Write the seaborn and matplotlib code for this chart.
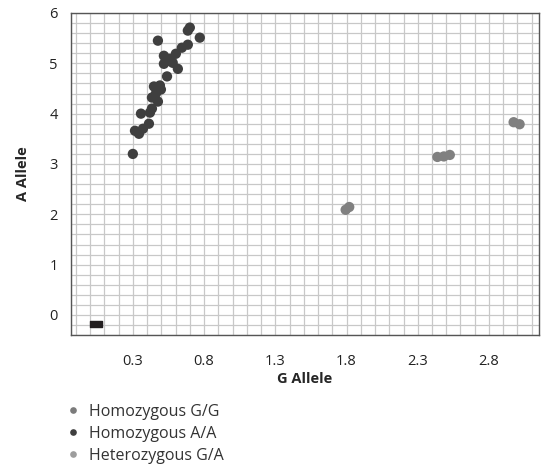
import numpy as np
import pandas as pd
import matplotlib
matplotlib.use("Agg")
import matplotlib.pyplot as plt
from matplotlib.ticker import FixedLocator, MultipleLocator
from matplotlib.lines import Line2D
from matplotlib.path import Path
import seaborn as sns

# Data
aa_g = [0.70, 0.686, 0.77, 0.476, 0.686, 0.644, 0.602, 0.518, 0.56, 0.58, 0.518,
        0.616, 0.54, 0.448, 0.49, 0.497, 0.462, 0.434, 0.476, 0.434, 0.42, 0.357,
        0.413, 0.315, 0.343, 0.371, 0.30, 0.555, 0.57]
aa_a = [5.71, 5.65, 5.51, 5.45, 5.37, 5.31, 5.19, 5.15, 5.09, 5.01, 4.99,
        4.89, 4.74, 4.54, 4.56, 4.48, 4.40, 4.32, 4.24, 4.10, 4.02, 4.00,
        3.80, 3.66, 3.60, 3.70, 3.20, 5.05, 5.04]
gg_g = [1.794, 1.819, 2.438, 2.483, 2.525, 2.973, 3.015]
gg_a = [2.09, 2.145, 3.14, 3.15, 3.18, 3.83, 3.79]
ntc_g = [0.04]
ntc_a = [-0.17]

labels = ['Homozygous G/G', 'Homozygous A/A', 'Heterozygous G/A']
colors = ['#7b7b7b', '#3f3f3f', '#9d9d9d']
x_ticks = [0.3, 0.8, 1.3, 1.8, 2.3, 2.8]
y_ticks = [0, 1, 2, 3, 4, 5, 6]

df = pd.DataFrame({
    'G Allele': aa_g + gg_g,
    'A Allele': aa_a + gg_a,
    'call': [labels[1]] * len(aa_g) + [labels[0]] * len(gg_g),
})

sns.set_style('white')
plt.rcParams['font.family'] = ['Open Sans', 'DejaVu Sans']

fig = plt.figure(figsize=(5.41, 4.74), dpi=100)
ax = fig.add_axes([0.131, 0.293, 0.865, 0.6796])

xmin, xmax = -0.135, 3.15
ymin, ymax = -0.4, 6.0

sns.scatterplot(data=df, x='G Allele', y='A Allele', hue='call',
                palette={labels[0]: '#808080', labels[1]: '#3f3f3f'},
                s=55, edgecolor='none', legend=False, ax=ax, zorder=3)

rect = Path([(-1, -0.55), (1, -0.55), (1, 0.55), (-1, 0.55), (-1, -0.55)],
            [Path.MOVETO, Path.LINETO, Path.LINETO, Path.LINETO, Path.CLOSEPOLY])
ax.scatter(ntc_g, ntc_a, marker=rect, s=70, color='#231f20', zorder=3)

ax.set_xlim(xmin, xmax)
ax.set_ylim(ymin, ymax)

ax.xaxis.set_major_locator(FixedLocator([xmin] + x_ticks))
ax.set_xticklabels([''] + [f'{v:.1f}' for v in x_ticks])
ax.xaxis.set_minor_locator(MultipleLocator(0.1))
ax.yaxis.set_major_locator(FixedLocator([ymin] + y_ticks))
ax.set_yticklabels([''] + [str(v) for v in y_ticks])
ax.yaxis.set_minor_locator(MultipleLocator(0.2))

ax.grid(True, which='both', color='#c8c8c8', linewidth=0.9)
ax.set_axisbelow(True)
ax.tick_params(axis='both', which='major', direction='out', length=5.8,
               width=1.0, color='#555555', labelsize=10.5, labelcolor='#222222')
ax.tick_params(axis='x', which='major', pad=8)
ax.tick_params(axis='y', which='major', pad=3.5)
ax.tick_params(which='minor', length=0)

for sp in ax.spines.values():
    sp.set_color('#555555')
    sp.set_linewidth(1.0)

ax.set_xlabel('G Allele', fontsize=10.5, fontweight='bold', labelpad=2)
ax.set_ylabel('A Allele', fontsize=10.5, fontweight='bold', labelpad=14)

handles = [Line2D([0], [0], marker='o', linestyle='none', markersize=4.8,
                  markerfacecolor=c, markeredgecolor='none') for c in colors]
fig.legend(handles, labels, loc='upper left', bbox_to_anchor=(0.115, 0.162),
           frameon=False, fontsize=11.5, handlelength=0.6, handletextpad=0.7,
           labelspacing=0.38, borderaxespad=0, labelcolor='#333333')

fig.savefig('out.png', dpi=100)
